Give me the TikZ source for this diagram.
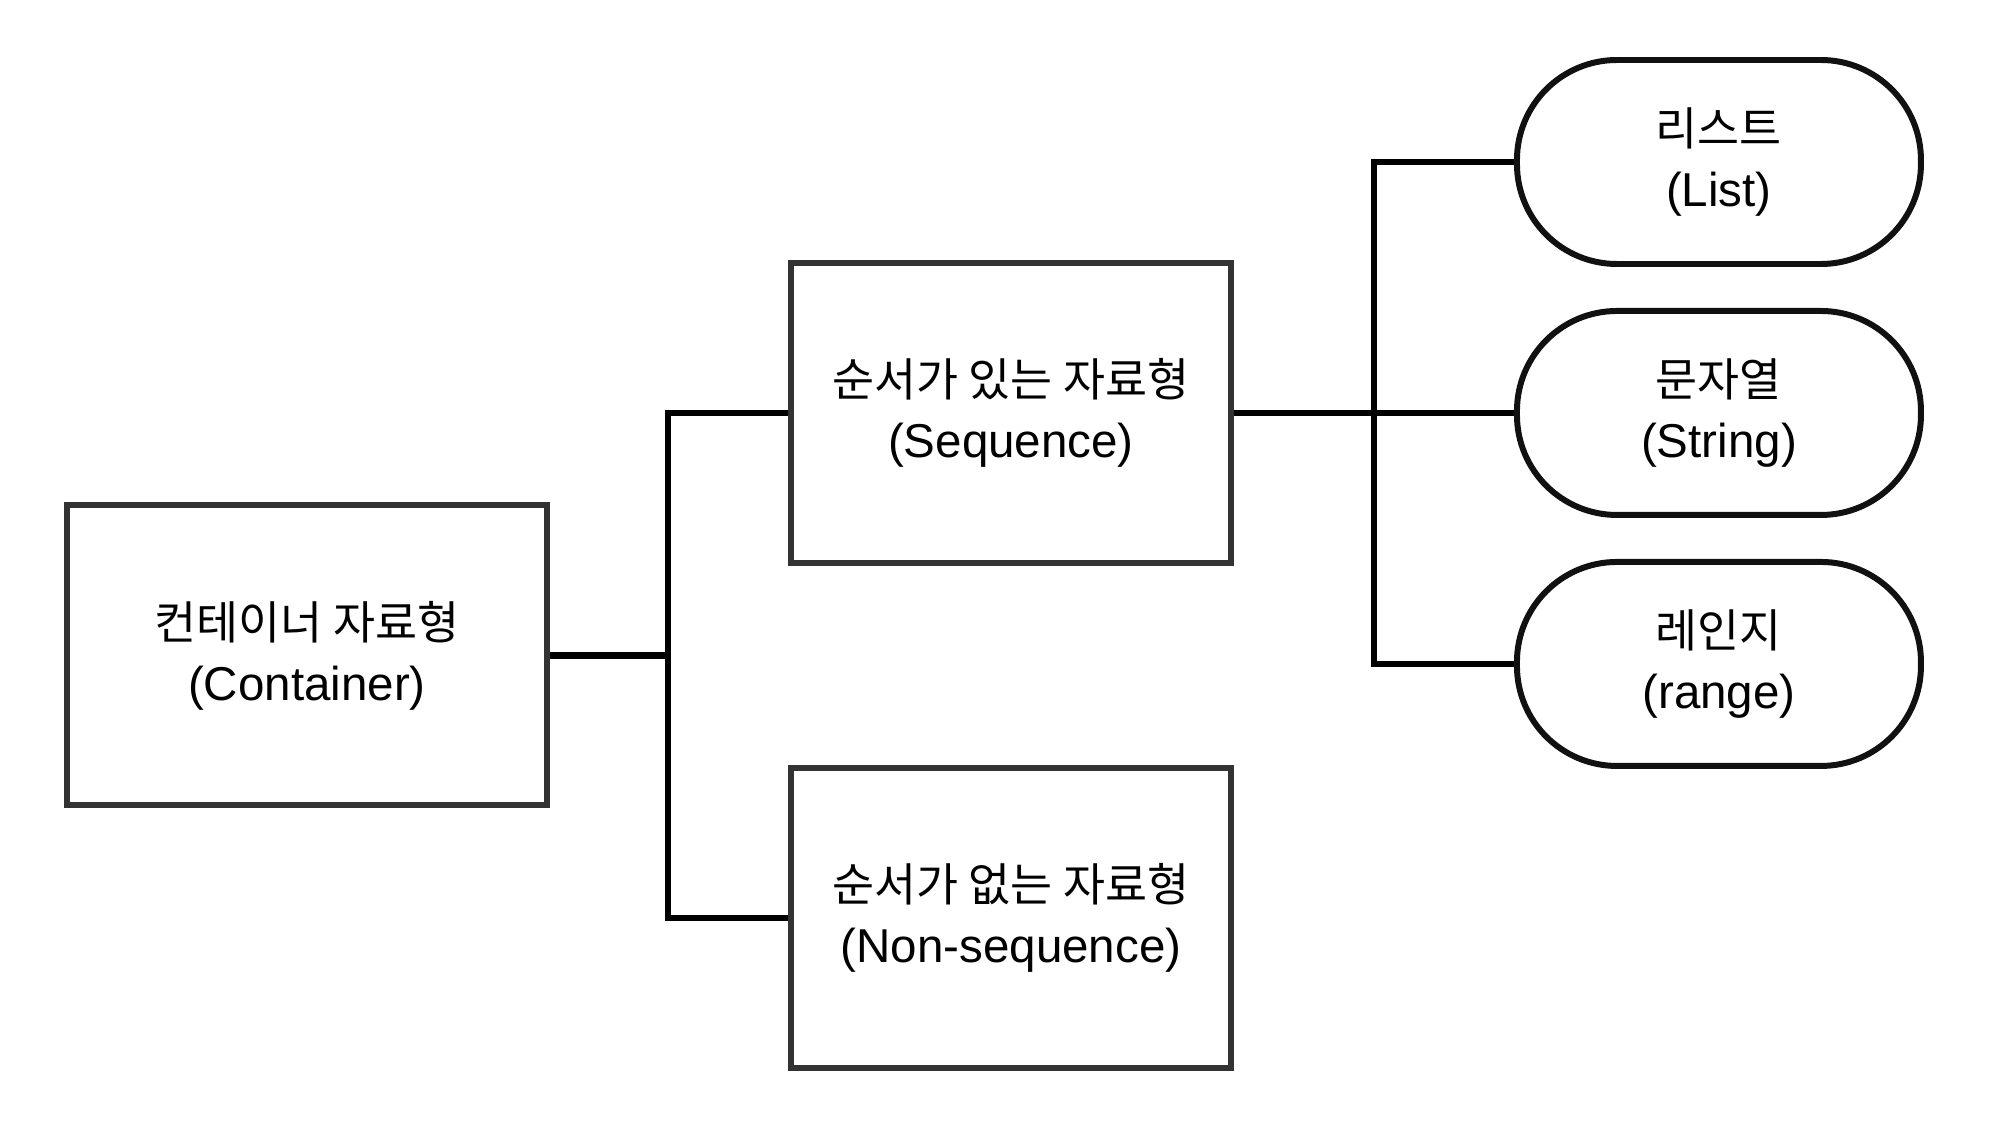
\documentclass[tikz,border=0pt]{standalone}
\usepackage{fontspec}
\setmainfont{Liberation Sans}[Scale=1.04]
\newfontfamily\kr{Noto Sans CJK KR}
\usetikzlibrary{positioning}
\definecolor{boxline}{HTML}{333333}
\definecolor{pillline}{HTML}{111111}

\tikzset{
	typebox/.style={draw=boxline, line width=1.7pt, fill=white, align=center, minimum width=4.4cm, minimum height=3.0cm, font=\fontsize{13}{17.4}\selectfont},
	pill/.style={draw=pillline, line width=1.7pt, fill=white, align=center, rounded corners=1cm, minimum width=4.04cm, minimum height=2.04cm, font=\fontsize{13}{17.4}\selectfont},
	link/.style={draw=black, line width=1.8pt}
}

\begin{document}
\begin{tikzpicture}[node distance=.3cm]
		\useasboundingbox (0,0) rectangle (20,11.3);
		\node[typebox, minimum width=4.8cm] (container) at (3.07,4.745) {{\kr 컨테이너 자료형}\\(Container)};
		\node[typebox, right = 2.38cm of container, yshift=2.425cm] (seq) {{\kr 순서가 있는 자료형}\\(Sequence)};
		\node[typebox, below = 1.99cm of seq] (nonseq) {{\kr 순서가 없는 자료형}\\(Non-sequence)};
		\node[pill, right = 2.8cm of seq] (string) {{\kr 문자열}\\(String)};
		\node[pill, above = .41cm of string] (list) {{\kr 리스트}\\(List)};
		\node[pill, below = .41cm of string] (range) {{\kr 레인지}\\(range)};
		
		\coordinate (split1) at ([xshift=1.18cm]container.east);
		\coordinate (split2) at ([xshift=1.4cm]seq.east);
		
		\draw[link] (container) to (split1);
		\draw[link] (seq.west) -| (split1) |- (nonseq.west);
		\draw[link] (seq) to (string);
		\draw[link] (list.west) -| (split2) |- (range.west);
		
		\end{tikzpicture}
\end{document}
